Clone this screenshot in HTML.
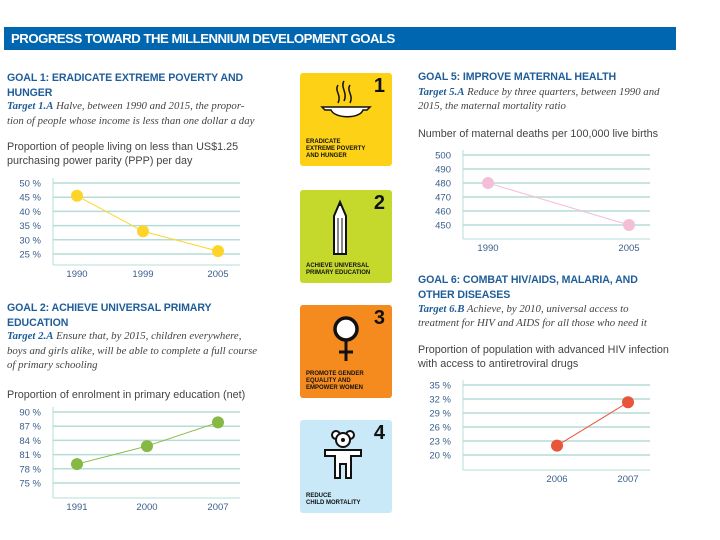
<!DOCTYPE html>
<html><head><meta charset="utf-8"><style>
body{margin:0;width:720px;height:540px;background:#fff;position:relative;overflow:hidden;font-family:"Liberation Sans",sans-serif}
.t{position:absolute;white-space:nowrap}
.gh{font-weight:bold;color:#1f5d99;font-size:10.6px;line-height:15px;letter-spacing:-0.1px}
.tg{font-family:"Liberation Serif",serif;font-style:italic;color:#444;font-size:10.8px;line-height:15px}
.tg b{font-style:italic;color:#1f5d99}
.st{color:#444;font-size:10.8px;line-height:14px}
.box{position:absolute;width:92px;height:93px;border-radius:3px}
.bn{position:absolute;right:7px;top:2px;font-weight:bold;font-size:20px;color:#111}
.bl{position:absolute;left:6px;bottom:6px;font-weight:bold;font-size:6px;line-height:7px;color:#111;font-family:"Liberation Sans Narrow","Liberation Sans",sans-serif}
</style></head><body>
<div style="position:absolute;left:4px;top:27px;width:672px;height:23px;background:#0066b0"></div>
<div class="t" style="left:11px;top:31px;color:#fff;font-weight:bold;font-size:13.2px;letter-spacing:-0.5px">PROGRESS TOWARD THE MILLENNIUM DEVELOPMENT GOALS</div>

<div class="t gh" style="left:7px;top:71px">GOAL 1: ERADICATE EXTREME POVERTY AND<br>HUNGER</div>
<div class="t tg" style="left:7px;top:99px"><b>Target 1.A</b> Halve, between 1990 and 2015, the propor-<br>tion of people whose income is less than one dollar a day</div>
<div class="t st" style="left:7px;top:140px">Proportion of people living on less than US$1.25<br>purchasing power parity (PPP) per day</div>

<div class="t gh" style="left:7px;top:301px">GOAL 2: ACHIEVE UNIVERSAL PRIMARY<br>EDUCATION</div>
<div class="t tg" style="left:7px;top:329px;line-height:14.5px"><b>Target 2.A</b> Ensure that, by 2015, children everywhere,<br>boys and girls alike, will be able to complete a full course<br>of primary schooling</div>
<div class="t st" style="left:7px;top:388px">Proportion of enrolment in primary education (net)</div>

<div class="t gh" style="left:418px;top:70px">GOAL 5: IMPROVE MATERNAL HEALTH</div>
<div class="t tg" style="left:418px;top:85px;line-height:14px"><b>Target 5.A</b> Reduce by three quarters, between 1990 and<br>2015, the maternal mortality ratio</div>
<div class="t st" style="left:418px;top:127px">Number of maternal deaths per 100,000 live births</div>

<div class="t gh" style="left:418px;top:273px">GOAL 6: COMBAT HIV/AIDS, MALARIA, AND<br>OTHER DISEASES</div>
<div class="t tg" style="left:418px;top:302px;line-height:14px"><b>Target 6.B</b> Achieve, by 2010, universal access to<br>treatment for HIV and AIDS for all those who need it</div>
<div class="t st" style="left:418px;top:343px">Proportion of population with advanced HIV infection<br>with access to antiretroviral drugs</div>

<div class="box" style="left:300px;top:73px;background:#fcd116">
<svg width="92" height="93" style="position:absolute;left:0;top:0"><path d="M38 12c-4 6 4 10 0 18M44 8c-4 6 4 12 0 20M50 12c-4 6 4 10 0 18" stroke="#111" stroke-width="1.5" fill="none"/><path d="M22 34h48l-3 3h-4c-3 9-28 9-32 0h-6z" fill="#fff" stroke="#111" stroke-width="1.5"/></svg>
<div class="bn">1</div><div class="bl">ERADICATE<br>EXTREME POVERTY<br>AND HUNGER</div></div>
<div class="box" style="left:300px;top:190px;background:#c5d92d">
<svg width="92" height="93" style="position:absolute;left:0;top:0"><path d="M34 26l6-14 6 14v38h-12z" fill="#fff" stroke="#111" stroke-width="2"/><path d="M38 16l2-4 2 4z" fill="#111"/><path d="M38 28v36M42 28v36" stroke="#111"/></svg>
<div class="bn">2</div><div class="bl">ACHIEVE UNIVERSAL<br>PRIMARY EDUCATION</div></div>
<div class="box" style="left:300px;top:305px;background:#f58b1f">
<svg width="92" height="93" style="position:absolute;left:0;top:0"><circle cx="46" cy="24" r="11" fill="#fff" stroke="#111" stroke-width="3.5"/><path d="M46 36v20M39 47h14" stroke="#111" stroke-width="3"/></svg>
<div class="bn">3</div><div class="bl">PROMOTE GENDER<br>EQUALITY AND<br>EMPOWER WOMEN</div></div>
<div class="box" style="left:300px;top:420px;background:#c9e8f8">
<svg width="92" height="93" style="position:absolute;left:0;top:0"><circle cx="36" cy="15" r="4" fill="#fff" stroke="#111" stroke-width="2"/><circle cx="50" cy="15" r="4" fill="#fff" stroke="#111" stroke-width="2"/><circle cx="43" cy="20" r="7" fill="#fff" stroke="#111" stroke-width="2"/><circle cx="43" cy="20" r="2" fill="#111"/><path d="M25 30h36v6h-10v22h-5v-14h-6v14h-5v-22h-10z" fill="#fff" stroke="#111" stroke-width="2"/></svg>
<div class="bn">4</div><div class="bl">REDUCE<br>CHILD MORTALITY</div></div>

<svg id="charts" width="720" height="540" style="position:absolute;left:0;top:0"></svg>
<script>
const c1Cats=["1990","1999","2005"];
const c1Vals=[45.5,33,26];
const c1Ticks=[50,45,40,35,30,25];
const c2Cats=["1991","2000","2007"];
const c2Vals=[79,82.8,87.8];
const c2Ticks=[90,87,84,81,78,75];
const c5Cats=["1990","2005"];
const c5Vals=[480,450];
const c5Ticks=[500,490,480,470,460,450];
const c6Cats=["2006","2007"];
const c6Vals=[22,31.3];
const c6Ticks=[35,32,29,26,23,20];
const NS="http://www.w3.org/2000/svg";
const svg=document.getElementById('charts');
function mk(tag,a,p){const e=document.createElementNS(NS,tag);for(const k in a)e.setAttribute(k,a[k]);(p||svg).appendChild(e);return e;}
function chart(name,cfg,cats,vals,ticks,suffix,color){
  const g=mk('g',{});
  
  
  const tmax=ticks[0],tmin=ticks[ticks.length-1];
  const y=v=>cfg.yTop+(tmax-v)/(tmax-tmin)*(cfg.yBot-cfg.yTop);
  const x=i=>cfg.xs[i];
  ticks.forEach(t=>{
    const l=mk('line',{x1:cfg.x0,x2:cfg.x1,y1:y(t),y2:y(t),stroke:'#b5dcd6','stroke-width':1.5},g);
    
    
    const tx=mk('text',{x:cfg.x0-12,y:y(t)+3.5,'text-anchor':'end','font-size':9.5,fill:'#3a5f8a','font-family':'Liberation Sans, sans-serif'},g);
    tx.textContent=t+suffix;
    
    
  });
  mk('line',{x1:cfg.x0,x2:cfg.x0,y1:cfg.yTop-5,y2:cfg.axisY,stroke:'#b5dcd6','stroke-width':1},g);
  mk('line',{x1:cfg.x0,x2:cfg.x1,y1:cfg.axisY,y2:cfg.axisY,stroke:'#b5dcd6','stroke-width':1},g);
  cats.forEach((c,i)=>{
    const tx=mk('text',{x:x(i),y:cfg.axisY+12,'text-anchor':'middle','font-size':9.5,fill:'#3a5f8a','font-family':'Liberation Sans, sans-serif'},g);
    tx.textContent=c;
    
    
  });
  const pl=mk('polyline',{points:vals.map((v,i)=>x(i)+','+y(v)).join(' '),fill:'none',stroke:color,'stroke-width':1},g);
  
  
  vals.forEach((v,i)=>{
    const p=mk('circle',{cx:x(i),cy:y(v),r:6,fill:color},g);
    
    
  });
}
chart('poverty-chart',{x0:53,x1:240,yTop:183,yBot:254,axisY:265,xs:[77,143,218]},c1Cats,c1Vals,c1Ticks,' %','#fdd52a');
chart('enrolment-chart',{x0:53,x1:240,yTop:412,yBot:483,axisY:498,xs:[77,147,218]},c2Cats,c2Vals,c2Ticks,' %','#86b843');
chart('maternal-chart',{x0:463,x1:650,yTop:155,yBot:225,axisY:239,xs:[488,629]},c5Cats,c5Vals,c5Ticks,'','#f4bfd6');
chart('hiv-chart',{x0:463,x1:650,yTop:385,yBot:455,axisY:470,xs:[557,628]},c6Cats,c6Vals,c6Ticks,' %','#e8553a');
</script>
</body></html>
